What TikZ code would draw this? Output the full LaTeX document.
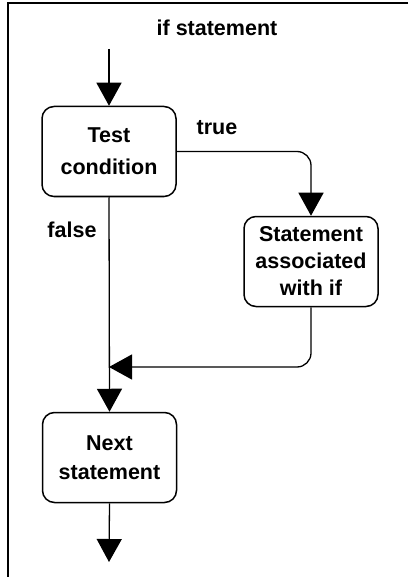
\documentclass[tikz,border=0pt]{standalone}
\usepackage{fontspec}
\setmainfont{Liberation Sans}
\usetikzlibrary{arrows.meta}

\begin{document}
\begin{tikzpicture}[x=1pt,y=-1pt,
  box/.style={draw=black,line width=1.5pt,shape=rectangle,rounded corners=12pt,
    minimum width=134pt,minimum height=90pt,inner sep=0pt,align=center,
    font=\fontsize{21.5}{29}\selectfont\bfseries},
  lbl/.style={font=\fontsize{21.5}{26}\selectfont\bfseries,inner sep=0pt},
  flow/.style={line width=1.3pt,-{Triangle[width=25pt,length=23pt]}}]
\useasboundingbox (0,0) rectangle (408,577);
% frame (cut at right and bottom)
\draw[line width=2pt] (408,3) -| (8,577);

\node[lbl] (title) at (217,28) {if statement};

\node[box,font=\fontsize{21.5}{32}\selectfont\bfseries] (test) at (109,151.5) {Test\\condition};
\node[box,font=\fontsize{21.5}{27}\selectfont\bfseries] (stmt) at (311,261.5) {Statement\\associated\\with if};
\node[box] (next) at (109.5,457.5) {Next\\statement};

\coordinate (start) at (109,49);
\coordinate (join) at (109,367);
\coordinate (exit) at (109,562);

\draw[flow] (start) -- (test.north);
\draw[flow,rounded corners=14pt] (test.east) -| (stmt.north);
\draw[flow,rounded corners=14pt] (stmt.south) |- (join);
\draw[flow] (test.south) -- (next.north);
\draw[flow] (next.south) -- (exit);

\node[lbl] (true) at (217,128) {true};
\node[lbl] (false) at (72,230) {false};
\end{tikzpicture}
\end{document}
